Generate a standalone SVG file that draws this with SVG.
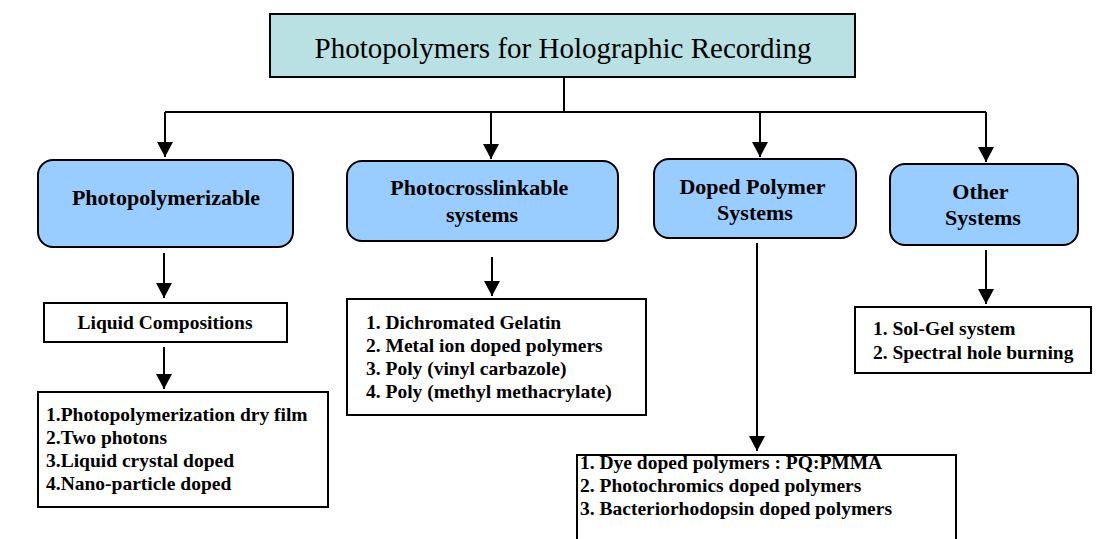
<svg xmlns="http://www.w3.org/2000/svg" width="1096" height="539" viewBox="0 0 1096 539">
  <style>
    .title { font-family: "Liberation Serif", "Times New Roman", serif; font-size: 29px; fill: #000; }
    .head { font-family: "Liberation Serif", "Times New Roman", serif; font-size: 22px; font-weight: bold; fill: #000; }
    .item { font-family: "Liberation Serif", "Times New Roman", serif; font-size: 19.5px; font-weight: bold; fill: #000; }
    .cat { fill: #99CCFF; stroke: #000; stroke-width: 2; }
    .plain { fill: #FFFFFF; stroke: #000; stroke-width: 2; }
    .root { fill: #B9E0E3; stroke: #000; stroke-width: 2; }
    .wire { fill: none; stroke: #000; stroke-width: 2; }
  </style>
  <defs>
    <marker id="arrow" markerUnits="userSpaceOnUse" markerWidth="16" markerHeight="16" viewBox="0 0 16 16" refX="15" refY="8" orient="auto">
      <path d="M0,0 L15,8 L0,16 Z" fill="#000"/>
    </marker>
  </defs>
  <rect width="1096" height="539" fill="#FFFFFF"/>

  <!-- connectors -->
  <g id="connectors">
    <path class="wire" d="M564,77 V112"/>
    <path class="wire" d="M165,112 H986"/>
    <path class="wire" d="M165,112 V157" marker-end="url(#arrow)"/>
    <path class="wire" d="M491,112 V159" marker-end="url(#arrow)"/>
    <path class="wire" d="M760,112 V157" marker-end="url(#arrow)"/>
    <path class="wire" d="M986,112 V162" marker-end="url(#arrow)"/>
    <path class="wire" d="M164,253 V298" marker-end="url(#arrow)"/>
    <path class="wire" d="M164,347 V389" marker-end="url(#arrow)"/>
    <path class="wire" d="M492,257 V296" marker-end="url(#arrow)"/>
    <path class="wire" d="M757,243 V451" marker-end="url(#arrow)"/>
    <path class="wire" d="M986,250 V304" marker-end="url(#arrow)"/>
  </g>

  <g id="root">
    <rect class="root" x="270" y="14" width="585" height="63"/>
    <text class="title" x="563" y="58" text-anchor="middle">Photopolymers for Holographic Recording</text>
  </g>

  <g id="photopolymerizable">
    <rect class="cat" x="38" y="160" width="255" height="87" rx="15"/>
    <text class="head" x="166" y="205" text-anchor="middle">Photopolymerizable</text>
  </g>

  <g id="liquid-compositions">
    <rect class="plain" x="44" y="303" width="243" height="39"/>
    <text class="item" x="165" y="329" text-anchor="middle">Liquid Compositions</text>
  </g>

  <g id="liquid-list">
    <rect class="plain" x="38" y="392" width="290" height="115"/>
    <text class="item" x="46">
      <tspan x="46" y="421">1.Photopolymerization dry film</tspan>
      <tspan x="46" y="444">2.Two photons</tspan>
      <tspan x="46" y="467">3.Liquid crystal doped</tspan>
      <tspan x="46" y="490">4.Nano-particle doped</tspan>
    </text>
  </g>

  <g id="photocrosslinkable">
    <rect class="cat" x="347" y="161" width="271" height="80" rx="15"/>
    <text class="head" text-anchor="middle">
      <tspan x="482" y="195">Photocrosslinkable</tspan>
      <tspan x="482" y="222">systems</tspan>
    </text>
  </g>

  <g id="crosslink-list">
    <rect class="plain" x="347" y="299" width="299" height="116"/>
    <text class="item">
      <tspan x="366" y="329">1. Dichromated Gelatin</tspan>
      <tspan x="366" y="352">2. Metal ion doped polymers</tspan>
      <tspan x="366" y="375">3. Poly (vinyl carbazole)</tspan>
      <tspan x="366" y="398">4. Poly (methyl methacrylate)</tspan>
    </text>
  </g>

  <g id="doped-polymer">
    <rect class="cat" x="654" y="159" width="202" height="79" rx="15"/>
    <text class="head" text-anchor="middle">
      <tspan x="755" y="194">Doped Polymer</tspan>
      <tspan x="755" y="220">Systems</tspan>
    </text>
  </g>

  <g id="doped-list">
    <rect class="plain" x="577" y="455" width="379" height="95"/>
    <text class="item">
      <tspan x="580" y="469">1. Dye doped polymers : PQ:PMMA</tspan>
      <tspan x="580" y="492">2. Photochromics doped polymers</tspan>
      <tspan x="580" y="515">3. Bacteriorhodopsin doped polymers</tspan>
    </text>
  </g>

  <g id="other-systems">
    <rect class="cat" x="890" y="164" width="188" height="81" rx="15"/>
    <text class="head" text-anchor="middle">
      <tspan x="983" y="199">Other</tspan>
      <tspan x="983" y="225">Systems</tspan>
    </text>
  </g>

  <g id="other-list">
    <rect class="plain" x="855" y="307" width="236" height="66"/>
    <text class="item">
      <tspan x="873" y="335">1. Sol-Gel system</tspan>
      <tspan x="873" y="359">2. Spectral hole burning</tspan>
    </text>
  </g>
</svg>
